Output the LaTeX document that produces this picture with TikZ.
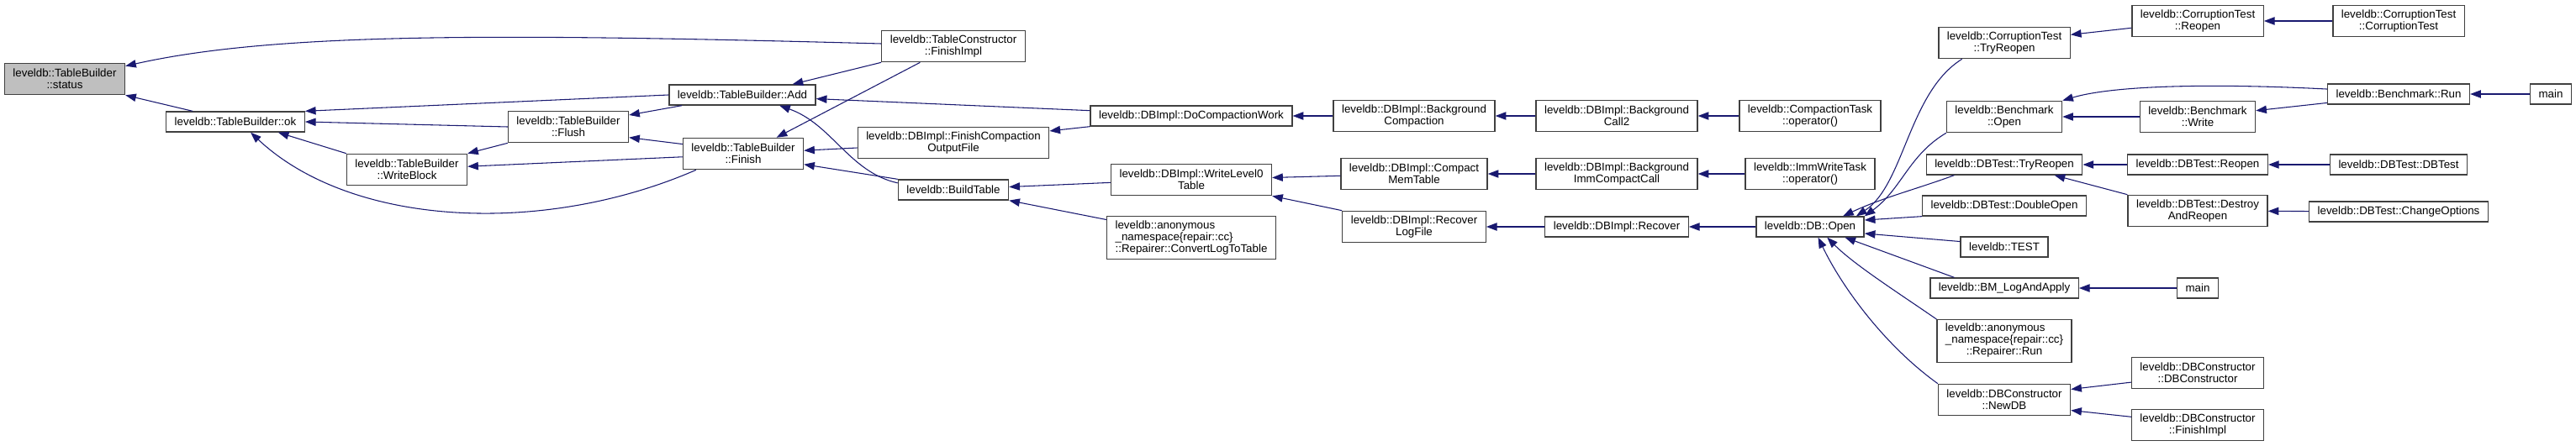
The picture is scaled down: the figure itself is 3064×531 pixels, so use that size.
\documentclass[tikz,border=0pt]{standalone}
\usepackage{fontspec}
\setmainfont{Liberation Sans}
\usetikzlibrary{arrows.meta}
\definecolor{edgeblue}{RGB}{25,25,112}
\definecolor{boxline}{RGB}{64,64,64}
\definecolor{startgray}{RGB}{191,191,191}
\newcommand{\dxfont}{\fontsize{10}{10.3}\selectfont}

\begin{document}
\begin{tikzpicture}[x=0.75pt, y=-0.75pt,
  every node/.style={draw=boxline, line width=1pt, fill=white, font=\dxfont, align=center, inner xsep=7.5pt, inner ysep=2pt, minimum height=18pt},
  two/.style={minimum height=28pt},
  three/.style={minimum height=38pt},
  call/.style={draw=edgeblue, line width=0.8pt, {Triangle[length=9.5pt,width=7pt]}-}]
\useasboundingbox (0,0) rectangle (3064,531);
\node[two, fill=startgray] (N0) at (77,94) {leveldb::TableBuilder\\::status};
\node (N1) at (280,145) {leveldb::TableBuilder::ok};
\node[two] (N2) at (676,151) {leveldb::TableBuilder\\::Flush};
\node[two] (N3) at (484,202) {leveldb::TableBuilder\\::WriteBlock};
\node (N4) at (883,113) {leveldb::TableBuilder::Add};
\node[two] (N5) at (884,183) {leveldb::TableBuilder\\::Finish};
\node[two] (N6) at (1134,55) {leveldb::TableConstructor\\::FinishImpl};
\node[two] (N7) at (1134,170) {leveldb::DBImpl::FinishCompaction\\OutputFile};
\node (N8) at (1134,226) {leveldb::BuildTable};
\node (N9) at (1417,138) {leveldb::DBImpl::DoCompactionWork};
\node[two] (N10) at (1417,214) {leveldb::DBImpl::WriteLevel0\\Table};
\node[three, align=left] (N11) at (1417,283) {leveldb::anonymous\\\_namespace\{repair::cc\}\\::Repairer::ConvertLogToTable};
\node[two] (N12) at (1682,138) {leveldb::DBImpl::Background\\Compaction};
\node[two] (N13) at (1682,207) {leveldb::DBImpl::Compact\\MemTable};
\node[two] (N14) at (1682,270) {leveldb::DBImpl::Recover\\LogFile};
\node[two] (N15) at (1923,138) {leveldb::DBImpl::Background\\Call2};
\node[two] (N16) at (1923,207) {leveldb::DBImpl::Background\\ImmCompactCall};
\node (N17) at (1923,270) {leveldb::DBImpl::Recover};
\node[two] (N18) at (2153,138) {leveldb::CompactionTask\\::operator()};
\node[two] (N19) at (2153,207) {leveldb::ImmWriteTask\\::operator()};
\node (N20) at (2153,270) {leveldb::DB::Open};
\node[two] (N21) at (2384,51) {leveldb::CorruptionTest\\::TryReopen};
\node[two] (N22) at (2384,139) {leveldb::Benchmark\\::Open};
\node (N23) at (2384,196) {leveldb::DBTest::TryReopen};
\node (N24) at (2384,245) {leveldb::DBTest::DoubleOpen};
\node (N25) at (2384,294) {leveldb::TEST};
\node (N26) at (2384,343) {leveldb::BM\_LogAndApply};
\node[three] (N27) at (2384,406) {\begin{tabular}{@{}l@{}}leveldb::anonymous\\\_namespace\{repair::cc\}\\\multicolumn{1}{@{}c@{}}{::Repairer::Run}\end{tabular}};
\node[two] (N28) at (2384,476) {leveldb::DBConstructor\\::NewDB};
\node[two] (N29) at (2614,25) {leveldb::CorruptionTest\\::Reopen};
\node[two] (N30) at (2614,139) {leveldb::Benchmark\\::Write};
\node (N31) at (2614,196) {leveldb::DBTest::Reopen};
\node[two] (N32) at (2614,251) {leveldb::DBTest::Destroy\\AndReopen};
\node (N33) at (2614,343) {main};
\node[two] (N34) at (2614,444) {leveldb::DBConstructor\\::DBConstructor};
\node[two] (N35) at (2614,506) {leveldb::DBConstructor\\::FinishImpl};
\node[two] (N36) at (2853,25) {leveldb::CorruptionTest\\::CorruptionTest};
\node (N37) at (2853,112) {leveldb::Benchmark::Run};
\node (N38) at (2853,196) {leveldb::DBTest::DBTest};
\node (N39) at (2853,252) {leveldb::DBTest::ChangeOptions};
\node (N40) at (3034,112) {main};
\draw[call] (N0.12) .. controls (330,38) and (600,40) .. (N6.178);
\draw[call] (N0.south east) -- (N1.166);
\draw[call] (N1.north east) -- (N4.west);
\draw[call] (N1.east) -- (N2.west);
\draw[call] (N1.346) -- (N3.north west);
\draw[call] (N1.325) .. controls (420,272) and (650,280) .. (N5.199);
\draw[call] (N2.11) -- (N4.190);
\draw[call] (N2.350) -- (N5.171);
\draw[call] (N3.north east) -- (N2.south west);
\draw[call] (N3.3) -- (N5.183);
\draw[call] (N4.12) -- (N6.south west);
\draw[call] (N4.357) -- (N9.177);
\draw[call] (N4.344) .. controls (990,148) and (1010,205) .. (N8.173);
\draw[call] (N5.26) -- (N6.206);
\draw[call] (N5.3) -- (N7.183);
\draw[call] (N5.350) -- (N8.north west);
\draw[call] (N7.7) -- (N9.186);
\draw[call] (N8.3) -- (N10.182);
\draw[call] (N8.south east) -- (N11.168);
\draw[call] (N9) -- (N12);
\draw[call] (N10) -- (N13);
\draw[call] (N10.south east) -- (N14.north west);
\draw[call] (N12) -- (N15);
\draw[call] (N15) -- (N18);
\draw[call] (N13) -- (N16);
\draw[call] (N16) -- (N19);
\draw[call] (N14) -- (N17);
\draw[call] (N17) -- (N20);
\draw[call] (N20.13) .. controls (2265,220) and (2270,110) .. (N21.201);
\draw[call] (N20.11) .. controls (2262,225) and (2270,185) .. (N22.south west);
\draw[call] (N20.18) .. controls (2240,235) and (2280,225) .. (N23.192);
\draw[call] (N20.7) -- (N24.south west);
\draw[call] (N20.353) -- (N25.173);
\draw[call] (N20.343) -- (N26.168);
\draw[call] (N20.328) .. controls (2205,315) and (2260,350) .. (N27.north west);
\draw[call] (N20.307) .. controls (2190,340) and (2240,410) .. (N28.north west);
\draw[call] (N21.7) -- (N29.186);
\draw[call] (N29) -- (N36);
\draw[call] (N22.north east) .. controls (2520,100) and (2650,100) .. (N37.176);
\draw[call] (N22) -- (N30);
\draw[call] (N30.6) -- (N37.187);
\draw[call] (N37) -- (N40);
\draw[call] (N23) -- (N31);
\draw[call] (N23.348) -- (N32.167);
\draw[call] (N31) -- (N38);
\draw[call] (N32) -- (N39);
\draw[call] (N26) -- (N33);
\draw[call] (N28.9) -- (N34.188);
\draw[call] (N28.351) -- (N35.173);
\end{tikzpicture}
\end{document}
